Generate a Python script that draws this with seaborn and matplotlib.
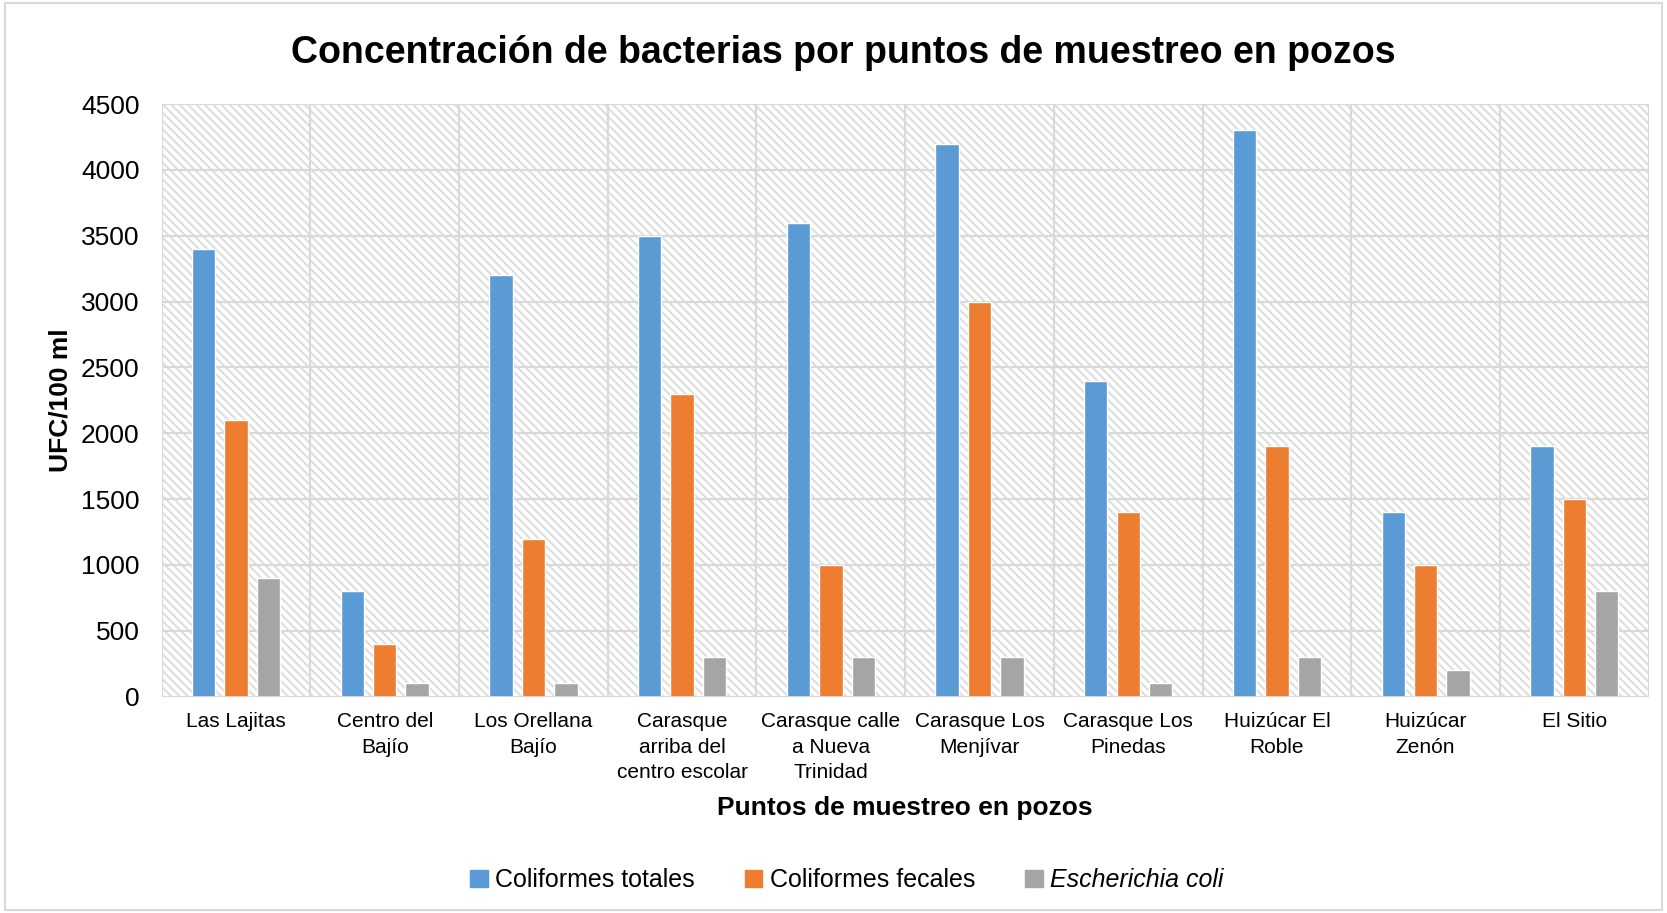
import seaborn as sns
import matplotlib.pyplot as plt
import matplotlib.patches as mpatches
from matplotlib.ticker import MultipleLocator, FixedLocator
import pandas as pd

# Datos
puntos = ["Las Lajitas", "Centro del\nBajío", "Los Orellana\nBajío",
          "Carasque\narriba del\ncentro escolar", "Carasque calle\na Nueva\nTrinidad",
          "Carasque Los\nMenjívar", "Carasque Los\nPinedas", "Huizúcar El\nRoble",
          "Huizúcar\nZenón", "El Sitio"]
coliformes_totales = [3400, 800, 3200, 3500, 3600, 4200, 2400, 4300, 1400, 1900]
coliformes_fecales = [2100, 400, 1200, 2300, 1000, 3000, 1400, 1900, 1000, 1500]
e_coli = [900, 100, 100, 300, 300, 300, 100, 300, 200, 800]
series = ["Coliformes totales", "Coliformes fecales", "Escherichia coli"]
colores = ["#5B9BD5", "#ED7D31", "#A5A5A5"]

df = pd.DataFrame({
    "punto": puntos * 3,
    "serie": [series[0]] * 10 + [series[1]] * 10 + [series[2]] * 10,
    "valor": coliformes_totales + coliformes_fecales + e_coli,
})

sns.set_style("white")
plt.rcParams["font.family"] = ["Liberation Sans", "DejaVu Sans"]
plt.rcParams["hatch.color"] = "#dcdcdc"
plt.rcParams["hatch.linewidth"] = 1.4
for k in ["text.color", "axes.labelcolor", "xtick.color", "ytick.color"]:
    plt.rcParams[k] = "black"

fig = plt.figure(figsize=(16.67, 9.13), dpi=100)
ax = fig.add_axes([0.097, 0.237, 0.892, 0.649])

# fondo rayado
ax.add_patch(mpatches.Rectangle((0, 0), 1, 1, transform=ax.transAxes,
                                facecolor="white", edgecolor="#dcdcdc",
                                hatch="\\\\\\\\", linewidth=0, zorder=0))

sns.barplot(data=df, x="punto", y="valor", hue="serie", palette=colores,
            width=0.654, gap=0.28, ax=ax, legend=False, zorder=3,
            saturation=1)

ax.set_ylim(0, 4500)
ax.set_xlim(-0.5, 9.5)
ax.yaxis.set_major_locator(MultipleLocator(500))
ax.xaxis.set_minor_locator(FixedLocator([i + 0.5 for i in range(-1, 10)]))
ax.grid(axis="y", which="major", color="#d9d9d9", linewidth=1.6, zorder=1)
ax.grid(axis="x", which="minor", color="#d9d9d9", linewidth=1.6, zorder=1)
ax.set_axisbelow(False)
for s in ax.spines.values():
    s.set_visible(False)
ax.axhline(0, color="#d9d9d9", linewidth=2, zorder=4)
ax.tick_params(axis="both", which="both", length=0)
ax.tick_params(axis="y", labelsize=19, pad=16)
ax.tick_params(axis="x", labelsize=15, pad=11)
ax.set_xticks(range(10))
ax.set_xticklabels(puntos, linespacing=1.45)

ax.set_xlabel("Puntos de muestreo en pozos", fontsize=19, fontweight="bold", labelpad=10)
ax.set_ylabel("UFC/100 ml", fontsize=19, fontweight="bold", labelpad=6)
fig.suptitle("Concentración de bacterias por puntos de muestreo en pozos",
             fontsize=27, fontweight="bold", y=0.962, x=0.506)

handles = [mpatches.Patch(color=c) for c in colores]
leg = fig.legend(handles, series, loc="center", bbox_to_anchor=(0.508, 0.036),
                 ncol=3, frameon=False, fontsize=18, handlelength=0.7,
                 handleheight=0.7, handletextpad=0.3, columnspacing=2.0)
leg.get_texts()[2].set_fontstyle("italic")

fig.add_artist(mpatches.Rectangle((0.003, 0.003), 0.994, 0.994, transform=fig.transFigure,
                                  fill=False, edgecolor="#d9d9d9", linewidth=1.5))

fig.savefig("out.png", dpi=100)
